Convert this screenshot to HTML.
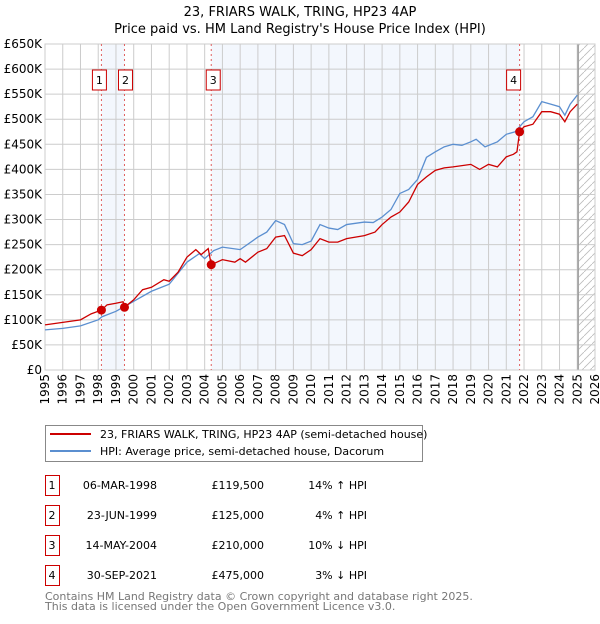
<!DOCTYPE html>
<html><head><meta charset="utf-8"><style>
body{margin:0;background:#fff;font-family:"DejaVu Sans","Liberation Sans",sans-serif;}
svg text{font-family:"DejaVu Sans","Liberation Sans",sans-serif;}
</style></head><body>
<svg id="chart" width="600" height="620" xmlns="http://www.w3.org/2000/svg">
<text x="300" y="16" text-anchor="middle" font-size="13">23, FRIARS WALK, TRING, HP23 4AP</text>
<text x="300" y="33" text-anchor="middle" font-size="13">Price paid vs. HM Land Registry's House Price Index (HPI)</text>
<g id="plot"></g>
<g>
<rect x="45.5" y="425.5" width="377" height="36" fill="#fff" stroke="#888"/>
<line x1="50" y1="434" x2="91" y2="434" stroke="#cc0000" stroke-width="2"/>
<text x="100" y="438" font-size="11">23, FRIARS WALK, TRING, HP23 4AP (semi-detached house)</text>
<line x1="50" y1="451" x2="91" y2="451" stroke="#5b8fd0" stroke-width="2"/>
<text x="100" y="455" font-size="11">HPI: Average price, semi-detached house, Dacorum</text>
</g>
<g id="table" font-size="11"></g>
<text x="45" y="600" font-size="11" fill="#777">Contains HM Land Registry data © Crown copyright and database right 2025.</text>
<text x="45" y="610" font-size="11" fill="#777">This data is licensed under the Open Government Licence v3.0.</text>
</svg>
<script>
const hpiT=[1995,1996,1997,1998,1998.2,1999,2000,2001,2002,2003,2003.7,2004,2004.5,2005,2006,2007,2007.5,2008,2008.5,2009,2009.5,2010,2010.5,2011,2011.5,2012,2013,2013.5,2014,2014.5,2015,2015.5,2016,2016.5,2017,2017.5,2018,2018.5,2019,2019.3,2019.8,2020.5,2021,2021.5,2022,2022.5,2023,2023.5,2024,2024.3,2024.6,2025];
const hpiV=[80,83,88,100,106,117,137,157,171,215,232,222,238,245,240,265,275,298,290,252,250,257,290,283,280,290,295,294,305,320,352,360,380,424,435,445,450,448,455,460,445,455,470,475,495,505,535,530,525,508,530,548];
const ppT=[1995,1996,1997,1997.6,1998.18,1998.5,1999,1999.4,1999.48,2000,2000.5,2001,2001.7,2002,2002.5,2003,2003.5,2003.8,2004.2,2004.37,2005,2005.7,2006,2006.3,2007,2007.5,2008,2008.5,2009,2009.5,2010,2010.5,2011,2011.5,2012,2013,2013.6,2014,2014.5,2015,2015.5,2016,2016.5,2017,2017.5,2018,2019,2019.5,2020,2020.5,2021,2021.4,2021.6,2021.75,2022,2022.5,2023,2023.5,2024,2024.3,2024.6,2025];
const ppV=[90,95,100,112,119.5,130,133,136,125,140,160,165,180,177,195,225,240,230,242,210,220,215,222,215,235,242,265,268,233,228,240,262,255,255,262,268,275,290,305,315,335,370,385,398,403,405,410,400,410,405,425,430,435,475,485,490,515,515,510,495,515,530];
const saleLabels=["1","2","3","4"];
const saleT=[1998.18,1999.48,2004.37,2021.75];
const saleV=[119.5,125,210,475];
const saleDates=["06-MAR-1998","23-JUN-1999","14-MAY-2004","30-SEP-2021"];
const salePrices=["£119,500","£125,000","£210,000","£475,000"];
const salePct=["14% ↑ HPI","4% ↑ HPI","10% ↓ HPI","3% ↓ HPI"];
const yTicks=[0,50,100,150,200,250,300,350,400,450,500,550,600,650];
const xTicks=[1995,1996,1997,1998,1999,2000,2001,2002,2003,2004,2005,2006,2007,2008,2009,2010,2011,2012,2013,2014,2015,2016,2017,2018,2019,2020,2021,2022,2023,2024,2025,2026];

const L=45,R=595,T=44,B=370;
const xs=t=>L+(t-1995)/(2026-1995)*(R-L);
const ys=v=>B-v/650*(B-T);
const NS="http://www.w3.org/2000/svg";
const plot=document.getElementById('plot');
function mk(tag,attrs,parent){const e=document.createElementNS(NS,tag);for(const k in attrs)e.setAttribute(k,attrs[k]);(parent||plot).appendChild(e);return e;}

let r;
r=mk('rect',{x:xs(saleT[0]),y:T,width:xs(saleT[1])-xs(saleT[0]),height:B-T,fill:'#eef3fc',opacity:0.7});


r=mk('rect',{x:xs(saleT[2]),y:T,width:xs(saleT[3])-xs(saleT[2]),height:B-T,fill:'#eef3fc',opacity:0.7});


const defs=mk('defs',{});
const pat=mk('pattern',{id:'hatch',width:8,height:8,patternUnits:'userSpaceOnUse'},defs);
mk('path',{d:'M0,8 L8,0',stroke:'#bbb','stroke-width':0.8},pat);
const fx=xs(2025.1);
r=mk('rect',{x:fx,y:T,width:R-fx,height:B-T,fill:'url(#hatch)'});



yTicks.forEach(v=>{
 const g=mk('line',{x1:L,x2:R,y1:ys(v),y2:ys(v),stroke:'#ccc','stroke-width':1});
 
 
 const t=mk('text',{x:L-3,y:ys(v)+4,'text-anchor':'end','font-size':12});
 t.textContent=v===0?'£0':'£'+v+'K';
 
 
});
xTicks.forEach(y=>{
 const g=mk('line',{x1:xs(y),x2:xs(y),y1:T,y2:B,stroke:'#ccc','stroke-width':1});
 
 
 const t=mk('text',{transform:`translate(${xs(y)+4},${B+4}) rotate(-90)`,'text-anchor':'end','font-size':12});
 t.textContent=y;
 
 
});
r=mk('line',{x1:xs(2025.05),x2:xs(2025.05),y1:T,y2:B,stroke:'#888','stroke-width':1.2});


r=mk('rect',{x:L,y:T,width:R-L,height:B-T,fill:'none',stroke:'#ccc'});



saleT.forEach((t,i)=>{
 const l=mk('line',{x1:xs(t),x2:xs(t),y1:T,y2:B,stroke:'#e06060','stroke-dasharray':'2,3','stroke-width':1});
 
 
});

const hp=mk('polyline',{points:hpiT.map((t,i)=>xs(t)+','+ys(hpiV[i])).join(' '),fill:'none',stroke:'#5b8fd0','stroke-width':1.3});


const pp=mk('polyline',{points:ppT.map((t,i)=>xs(t)+','+ys(ppV[i])).join(' '),fill:'none',stroke:'#cc0000','stroke-width':1.3});



const boxOff=[-9,-6,-5,-13];
saleT.forEach((t,i)=>{
 const c=mk('circle',{cx:xs(t),cy:ys(saleV[i]),r:4.5,fill:'#cc0000'});
 
 
 const bxX=xs(t)+boxOff[i];
 const bx=mk('rect',{x:bxX,y:70,width:14,height:20,fill:'#fff',stroke:'#cc0000'});
 
 
 const tx=mk('text',{x:bxX+7,y:84,'text-anchor':'middle','font-size':11});
 tx.textContent=saleLabels[i];
 
 
});

const tbl=document.getElementById('table');
saleLabels.forEach((s,i)=>{
 const y=475+i*30;
 const b=mk('rect',{x:45.5,y:y+0.5,width:14,height:20,fill:'#fff',stroke:'#cc0000'},tbl);
 
 
 const cells=[[52,'middle',s,'table-label'],[157,'end',saleDates[i],'table-date'],[264,'end',salePrices[i],'table-price'],[367,'end',salePct[i],'table-hpi-change']];
 cells.forEach(c=>{
  const t=mk('text',{x:c[0],y:y+14,'text-anchor':c[1]},tbl);
  t.textContent=c[2];
  
  
 });
});
</script>
</body></html>
